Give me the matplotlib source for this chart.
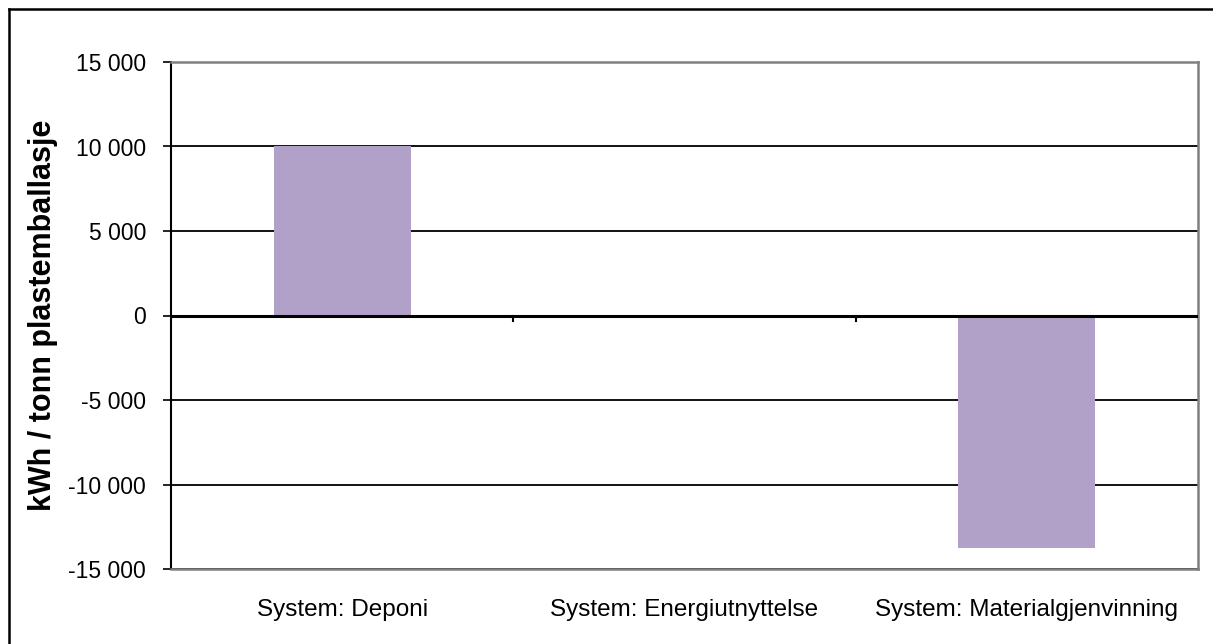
import matplotlib
matplotlib.use("Agg")
import matplotlib.pyplot as plt
from matplotlib.ticker import FuncFormatter
from matplotlib.lines import Line2D

categories = ["System: Deponi", "System: Energiutnyttelse", "System: Materialgjenvinning"]
values = [10050, -30, -13750]
y_ticks = [-15000, -10000, -5000, 0, 5000, 10000, 15000]

plt.rcParams["font.family"] = ["Liberation Sans", "DejaVu Sans"]

W, H = 1213, 644
fig = plt.figure(figsize=(W / 100, H / 100), dpi=100)
fig.patch.set_facecolor("white")

# plot area in pixel coordinates
left, right, top, bottom = 171, 1198, 62, 569
ax = fig.add_axes([left / W, 1 - bottom / H, (right - left) / W, (bottom - top) / H])

x = list(range(len(categories)))
ax.bar(x, values, width=0.40, color="#b1a0c7", zorder=3)

ax.set_xlim(-0.5, len(categories) - 0.5)
ax.set_ylim(-15000, 15000)
ax.set_yticks(y_ticks)
ax.yaxis.set_major_formatter(FuncFormatter(lambda v, p: f"{int(v):,}".replace(",", " ")))
ax.grid(axis="y", color="black", linewidth=1.3, zorder=1)
ax.tick_params(axis="y", length=6, width=1.2, labelsize=16.5, pad=12, color="black")

# category axis sits at zero; labels drawn below the plot area
ax.set_xticks([])
ax.axhline(0, color="black", linewidth=2.2, zorder=4)
for b in [0.5, 1.5]:
    ax.plot([b, b], [0, -330], color="black", linewidth=1.5, zorder=4, clip_on=False)
for i, c in enumerate(categories):
    ax.text(i, -17450, c, ha="center", va="center", fontsize=17.5)

for s in ["top", "right", "bottom"]:
    ax.spines[s].set_color("#808080")
    ax.spines[s].set_linewidth(1.8)
ax.spines["left"].set_color("black")
ax.spines["left"].set_linewidth(1.5)

ax.set_ylabel("kWh / tonn plastemballasje", fontsize=22, fontweight="bold")
ax.yaxis.set_label_coords((43 - left) / (right - left), 0.5)
ax.yaxis.label.set_va("center")

# outer chart border
fig.add_artist(Line2D([9 / W, 9 / W], [0, 1 - 9 / H], color="black", linewidth=1.8))
fig.add_artist(Line2D([9 / W, 1], [1 - 9 / H, 1 - 9 / H], color="black", linewidth=1.8))

fig.savefig("out.png", dpi=100, facecolor="white")
